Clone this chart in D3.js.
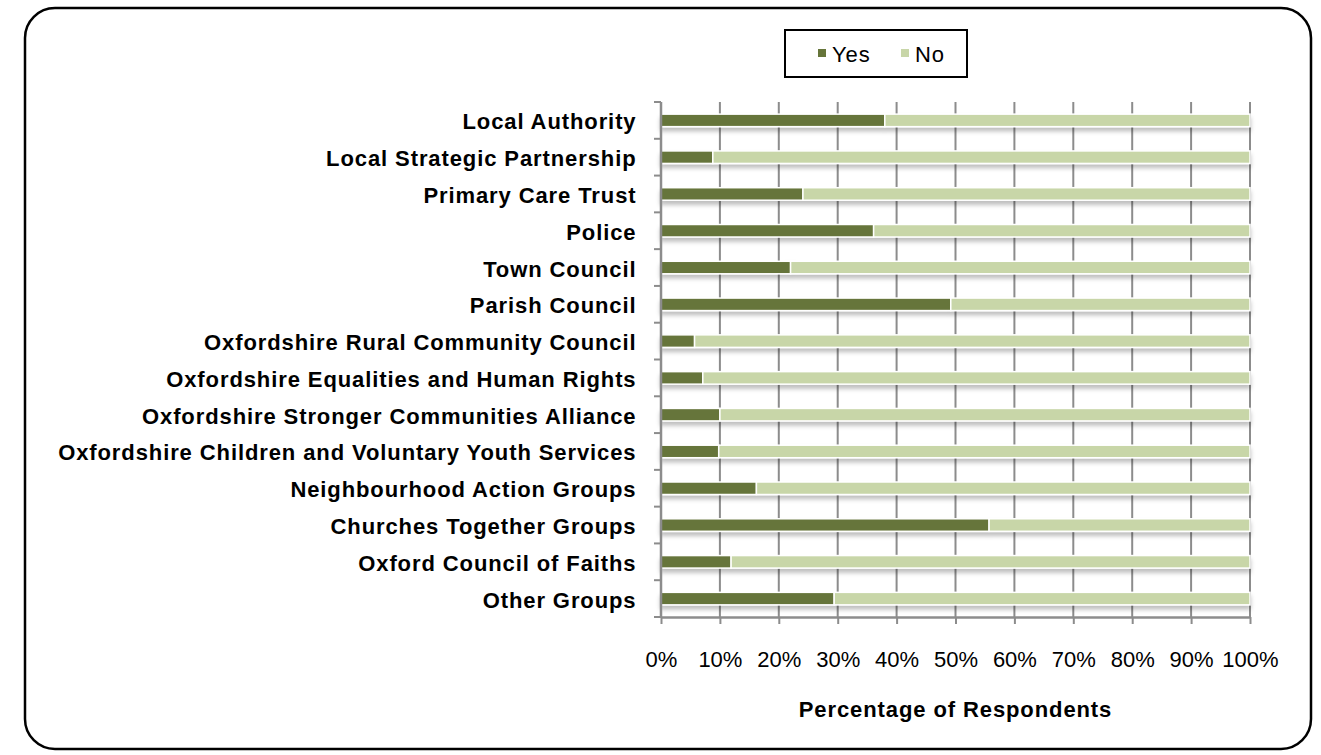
<!DOCTYPE html>
<html>
<head>
<meta charset="utf-8">
<script src="https://cdn.jsdelivr.net/npm/d3@7.9.0/dist/d3.min.js"></script>
<style>
  html, body { margin: 0; padding: 0; background: #fff; }
  svg { display: block; font-family: "Liberation Sans", Arial, sans-serif; }
</style>
</head>
<body>
<svg id="chart" width="1321" height="755"></svg>
<script>
// data
const categories = [
  'Local Authority',
  'Local Strategic Partnership',
  'Primary Care Trust',
  'Police',
  'Town Council',
  'Parish Council',
  'Oxfordshire Rural Community Council',
  'Oxfordshire Equalities and Human Rights',
  'Oxfordshire Stronger Communities Alliance',
  'Oxfordshire Children and Voluntary Youth Services',
  'Neighbourhood Action Groups',
  'Churches Together Groups',
  'Oxford Council of Faiths',
  'Other Groups'
];
const yesValues = [38.0, 8.8, 24.1, 36.1, 22.0, 49.2, 5.7, 7.1, 10.0, 9.8, 16.2, 55.7, 11.9, 29.4];
const noValues = yesValues.map(v => 100 - v);
const seriesNames = ['Yes', 'No'];
const seriesColors = ['#66753a', '#c8d6a8'];
const xTicks = [0, 10, 20, 30, 40, 50, 60, 70, 80, 90, 100];

const svg = d3.select('#chart');

// outer rounded frame
svg.append('rect')
  .attr('x', 25).attr('y', 8)
  .attr('width', 1286).attr('height', 741)
  .attr('rx', 30).attr('ry', 30)
  .attr('fill', 'none')
  .attr('stroke', '#000')
  .attr('stroke-width', 2.5);

const defs = svg.append('defs');
const shadow = defs.append('filter')
  .attr('id', 'shadow')
  .attr('x', '-5%').attr('y', '-50%')
  .attr('width', '110%').attr('height', '250%');
shadow.append('feDropShadow')
  .attr('dx', 0).attr('dy', 4)
  .attr('stdDeviation', 2.2)
  .attr('flood-color', '#000')
  .attr('flood-opacity', 0.25);

const plot = { left: 661, right: 1250, top: 102, bottom: 617 };

const x = d3.scaleLinear().domain([0, 100]).range([plot.left, plot.right]);
const y = d3.scaleBand()
  .domain(categories)
  .range([plot.top, plot.bottom])
  .paddingInner(0.66)
  .paddingOuter(0.33);

const gridColor = '#8c8c8c';
const spacing = '0.9px';

// vertical gridlines (behind the bars)
svg.append('g')
  .selectAll('line')
  .data(xTicks.slice(1))
  .join('line')
  .attr('x1', d => x(d)).attr('x2', d => x(d))
  .attr('y1', plot.top).attr('y2', plot.bottom)
  .attr('stroke', gridColor)
  .attr('stroke-width', 2);

// stacked bars
const rows = categories.map((c, i) => ({ cat: c, yes: yesValues[i], no: noValues[i] }));
const stack = d3.stack().keys(['yes', 'no']);
const layers = stack(rows);

const barG = svg.append('g').attr('filter', 'url(#shadow)');
barG.selectAll('g')
  .data(layers)
  .join('g')
  .attr('fill', (d, i) => seriesColors[i])
  .selectAll('rect')
  .data(d => d)
  .join('rect')
  .attr('x', d => x(d[0]))
  .attr('y', d => y(d.data.cat))
  .attr('width', d => x(d[1]) - x(d[0]))
  .attr('height', y.bandwidth())
  .attr('stroke', '#fff')
  .attr('stroke-width', 1.5);

// bottom axis
const xAxis = svg.append('g')
  .attr('transform', `translate(0,${plot.bottom})`)
  .call(d3.axisBottom(x).tickValues(xTicks).tickSize(7).tickPadding(27).tickSizeOuter(0)
    .tickFormat(d => d + '%'));
xAxis.select('.domain').attr('stroke', gridColor).attr('stroke-width', 2.5);
xAxis.selectAll('.tick line').attr('stroke', gridColor).attr('stroke-width', 2);
xAxis.selectAll('.tick text')
  .attr('fill', '#000')
  .style('font-size', '22px')
  .style('font-family', '"Liberation Sans", Arial, sans-serif');

// left axis with ticks between categories
const yAxisG = svg.append('g');
yAxisG.append('line')
  .attr('x1', plot.left).attr('x2', plot.left)
  .attr('y1', plot.top).attr('y2', plot.bottom)
  .attr('stroke', gridColor).attr('stroke-width', 2.5);
const boundaries = d3.range(categories.length + 1).map(i => plot.top + i * y.step());
yAxisG.selectAll('line.tk')
  .data(boundaries)
  .join('line')
  .attr('class', 'tk')
  .attr('x1', plot.left - 7).attr('x2', plot.left)
  .attr('y1', d => d).attr('y2', d => d)
  .attr('stroke', gridColor).attr('stroke-width', 2);

// category labels
svg.append('g')
  .selectAll('text')
  .data(categories)
  .join('text')
  .attr('x', 636.5)
  .attr('y', d => y(d) + y.bandwidth() / 2 + 1.5)
  .attr('text-anchor', 'end')
  .attr('dominant-baseline', 'central')
  .style('font-size', '22px')
  .style('font-weight', 'bold')
  .style('letter-spacing', spacing)
  .text(d => d);

// axis title
svg.append('text')
  .attr('x', (plot.left + plot.right) / 2)
  .attr('y', 717)
  .attr('text-anchor', 'middle')
  .style('font-size', '22px')
  .style('font-weight', 'bold')
  .style('letter-spacing', spacing)
  .text('Percentage of Respondents');

// legend
const legend = svg.append('g');
legend.append('rect')
  .attr('x', 785).attr('y', 30)
  .attr('width', 182).attr('height', 47)
  .attr('fill', '#fff')
  .attr('stroke', '#000')
  .attr('stroke-width', 2);
const legendX = [818, 901];
seriesNames.forEach((name, i) => {
  legend.append('rect')
    .attr('x', legendX[i]).attr('y', 49)
    .attr('width', 8).attr('height', 8)
    .attr('fill', seriesColors[i]);
  legend.append('text')
    .attr('x', legendX[i] + 14).attr('y', 54)
    .attr('dominant-baseline', 'central')
    .style('font-size', '22px')
    .style('letter-spacing', spacing)
    .text(name);
});
</script>
</body>
</html>
